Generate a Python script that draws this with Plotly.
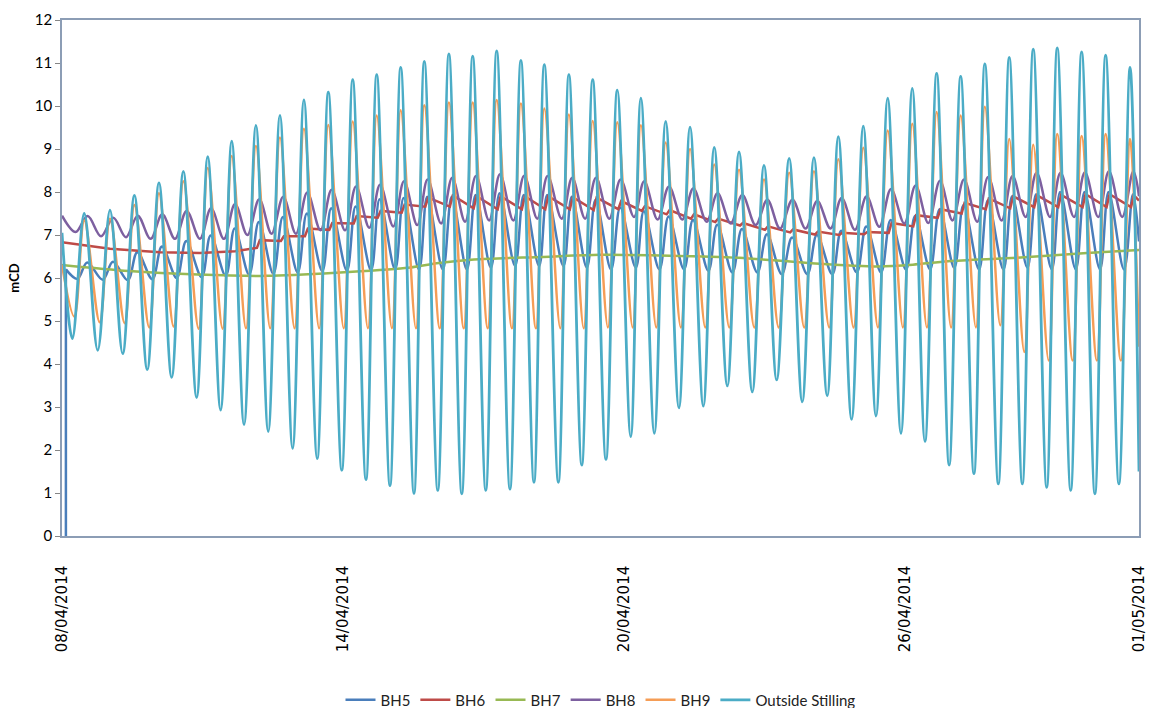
import pandas as pd
import plotly.graph_objects as go

# ---------------- data (hours after 08/04/2014 00:00, values in mCD) ----------------
START = pd.Timestamp("2014-04-08 00:00")
END_H = 552.0

# Outside Stilling: high waters and low waters
OS_HIGH_H = [11.4, 24.6, 37.1, 49.7, 62.2, 74.7, 87.0, 99.4, 111.7, 124.0, 136.5, 149.0, 161.3, 173.6,
             185.7, 198.3, 210.5, 222.8, 235.2, 247.2, 259.8, 272.0, 284.6, 296.7, 309.4, 321.9, 334.3,
             347.0, 359.8, 372.7, 385.4, 397.9, 410.7, 423.2, 435.8, 448.3, 460.6, 473.0, 485.5, 497.8,
             510.1, 522.6, 534.9, 547.4]
OS_HIGH = [7.50, 7.58, 7.92, 8.21, 8.48, 8.82, 9.18, 9.55, 9.78, 10.14, 10.32, 10.61, 10.73, 10.90,
           11.04, 11.21, 11.16, 11.28, 11.06, 10.96, 10.73, 10.61, 10.37, 10.18, 9.64, 9.51, 9.04,
           8.93, 8.62, 8.78, 8.80, 9.29, 9.53, 10.18, 10.41, 10.76, 10.69, 10.98, 11.13, 11.32,
           11.35, 11.26, 11.18, 10.90]
OS_LOW_H = [5.3, 18.3, 31.1, 43.7, 56.2, 69.0, 81.3, 93.3, 105.7, 118.2, 130.8, 143.4, 155.8, 168.1,
            180.4, 192.6, 204.9, 217.2, 229.6, 241.9, 254.4, 266.4, 278.8, 291.5, 303.6, 316.2, 328.7,
            341.0, 353.8, 366.3, 379.4, 392.2, 404.7, 417.2, 430.0, 442.3, 454.7, 467.4, 479.9, 492.2,
            504.7, 517.0, 529.4, 541.7]
OS_LOW = [4.59, 4.32, 4.24, 3.87, 3.69, 3.22, 2.93, 2.59, 2.43, 2.04, 1.80, 1.53, 1.31, 1.17,
          0.99, 1.06, 0.98, 1.06, 1.09, 1.25, 1.25, 1.65, 1.78, 2.31, 2.39, 2.98, 3.02,
          3.49, 3.35, 3.63, 3.12, 3.26, 2.71, 2.79, 2.39, 2.20, 1.65, 1.45, 1.21, 1.21,
          1.13, 1.06, 0.98, 1.21]
OS_START, OS_END = 7.05, 1.5

# BH9
BH9_HIGH = [7.34, 7.38, 7.70, 7.97, 8.25, 8.56, 8.84, 9.07, 9.27, 9.47, 9.56, 9.64, 9.78, 9.90,
            10.02, 10.08, 10.08, 10.14, 10.06, 9.94, 9.80, 9.65, 9.62, 9.55, 9.15, 9.00, 8.64,
            8.52, 8.29, 8.45, 8.48, 8.76, 9.03, 9.43, 9.59, 9.86, 9.78, 9.98, 9.23, 9.10,
            9.35, 9.30, 9.35, 9.23]
BH9_LOW = [5.10, 4.97, 4.95, 4.85, 4.87, 4.82, 4.82, 4.83, 4.83, 4.83, 4.83, 4.83, 4.83, 4.83,
           4.83, 4.83, 4.83, 4.83, 4.83, 4.83, 4.83, 4.83, 4.85, 4.85, 4.85, 4.85, 4.85,
           4.85, 4.85, 4.85, 4.85, 4.85, 4.85, 4.85, 4.85, 4.85, 4.85, 4.85, 4.90, 4.28,
           4.08, 4.08, 4.08, 4.08]
BH9_START, BH9_END = 6.3, 4.4
BH9_LOW_LAG_H = 1.0

# BH8
BH8_HIGH = [7.44, 7.40, 7.45, 7.48, 7.56, 7.62, 7.72, 7.83, 7.89, 7.99, 8.05, 8.13, 8.17, 8.25,
            8.29, 8.33, 8.37, 8.41, 8.38, 8.37, 8.33, 8.33, 8.29, 8.25, 8.13, 8.09, 7.97,
            7.93, 7.82, 7.82, 7.79, 7.86, 7.90, 8.07, 8.15, 8.26, 8.29, 8.35, 8.37, 8.45,
            8.45, 8.46, 8.48, 8.48]
BH8_LOW = [7.07, 6.97, 6.95, 6.91, 6.91, 6.91, 6.91, 7.00, 7.03, 7.03, 7.11, 7.11, 7.17, 7.20,
           7.23, 7.27, 7.31, 7.34, 7.34, 7.38, 7.38, 7.38, 7.38, 7.42, 7.36, 7.36, 7.31,
           7.27, 7.23, 7.15, 7.15, 7.15, 7.12, 7.19, 7.27, 7.28, 7.34, 7.31, 7.34, 7.42,
           7.42, 7.42, 7.42, 7.42]
BH8_START, BH8_END = 7.45, 7.9
BH8_LAG_H = 1.7

# BH5
BH5_HIGH = [6.36, 6.38, 6.60, 6.73, 6.86, 6.99, 7.15, 7.30, 7.42, 7.50, 7.62, 7.66, 7.83, 7.86,
            7.89, 7.89, 7.93, 7.97, 7.93, 7.93, 7.89, 7.82, 7.64, 7.55, 7.43, 7.35, 7.24,
            7.14, 7.02, 6.94, 7.00, 7.10, 7.20, 7.35, 7.45, 7.60, 7.70, 7.80, 7.90, 7.95,
            8.00, 8.00, 8.00, 7.95]
BH5_LOW = [5.98, 5.96, 5.95, 5.97, 6.00, 6.02, 6.05, 6.08, 6.10, 6.13, 6.16, 6.17, 6.18, 6.20,
           6.20, 6.20, 6.20, 6.24, 6.28, 6.28, 6.28, 6.24, 6.20, 6.24, 6.20, 6.20, 6.17,
           6.13, 6.13, 6.09, 6.09, 6.09, 6.13, 6.13, 6.20, 6.20, 6.24, 6.20, 6.20, 6.24,
           6.20, 6.20, 6.20, 6.20]
BH5_GAP_H = 2.0          # first reading (0 mCD) before the logger settles
BH5_GAP = [0.0, 6.2]
BH5_END = 6.85
BH5_HIGH_LAG_H, BH5_LOW_LAG_H = 1.5, 2.6

# BH6
BH6_EARLY_H = [0.0, 24.6, 50.2, 70.7, 88.7]
BH6_EARLY = [6.83, 6.68, 6.60, 6.58, 6.62]
BH6_FIRST_TIDE = 7
BH6_LOW = [6.70, 6.86, 6.97, 7.12, 7.27, 7.40, 7.52, 7.66, 7.66, 7.62, 7.60, 7.60, 7.60, 7.60,
           7.58, 7.60, 7.56, 7.48, 7.38, 7.30, 7.22, 7.12, 7.06, 7.01, 7.00, 7.02, 7.05,
           7.20, 7.40, 7.50, 7.60, 7.62, 7.65, 7.65, 7.65, 7.65, 7.65]
BH6_HIGH = [6.88, 6.97, 7.15, 7.28, 7.44, 7.56, 7.71, 7.87, 7.92, 7.90, 7.90, 7.90, 7.90, 7.88,
            7.87, 7.79, 7.67, 7.58, 7.48, 7.38, 7.28, 7.20, 7.13, 7.08, 7.05, 7.07, 7.28,
            7.46, 7.60, 7.75, 7.85, 7.90, 7.92, 7.93, 7.95, 7.95, 7.92]
BH6_END = 7.8
BH6_LOW_LAG_H, BH6_HIGH_LAG_H = 0.5, 2.0

# BH7
BH7_H = [0.0, 34.3, 69.7, 105.1, 140.4, 175.8, 193.2, 211.2, 246.5, 275.7, 311.6, 347.0,
         382.3, 418.2, 436.1, 454.1, 489.4, 525.3, 552.0]
BH7 = [6.30, 6.16, 6.08, 6.05, 6.12, 6.23, 6.35, 6.43, 6.49, 6.54, 6.52, 6.47,
       6.35, 6.27, 6.31, 6.39, 6.47, 6.58, 6.65]

TICK_DAYS = [0, 6, 12, 18, 23]
TICK_TEXT = ["08/04/2014", "14/04/2014", "20/04/2014", "26/04/2014", "01/05/2014"]

COLORS = {"BH5": "#4A7EBB", "BH6": "#BE4B48", "BH7": "#98B954", "BH8": "#7D60A0",
          "BH9": "#F59D56", "Outside Stilling": "#4BACC6"}


def to_dates(hours):
    return START + pd.to_timedelta(hours, unit="h")


def tide(low_h, low, high_h, high, start_h, start, end, low_lag=0.0, high_lag=0.0):
    h = list(start_h)
    v = list(start)
    for lh, lv, hh, hv in zip(low_h, low, high_h, high):
        h += [lh + low_lag, hh + high_lag]
        v += [lv, hv]
    h.append(END_H)
    v.append(end)
    return to_dates(h), v


fig = go.Figure()

# BH5: initial drop to 0 drawn as a straight segment, then the tidal record
fig.add_trace(go.Scatter(x=to_dates([BH5_GAP_H, BH5_GAP_H]), y=BH5_GAP, mode="lines",
                         line=dict(color=COLORS["BH5"], width=2.5), legendgroup="BH5",
                         showlegend=False))
x5, y5 = tide(OS_LOW_H, BH5_LOW, OS_HIGH_H, BH5_HIGH, [BH5_GAP_H], [BH5_GAP[1]], BH5_END,
              BH5_LOW_LAG_H, BH5_HIGH_LAG_H)
fig.add_trace(go.Scatter(x=x5, y=y5, name="BH5", mode="lines", legendgroup="BH5",
                         line=dict(color=COLORS["BH5"], width=2.5, shape="spline", smoothing=1)))

h6 = list(BH6_EARLY_H)
v6 = list(BH6_EARLY)
for th, lo, hi in zip(OS_HIGH_H[BH6_FIRST_TIDE:], BH6_LOW, BH6_HIGH):
    h6 += [th + BH6_LOW_LAG_H, th + BH6_HIGH_LAG_H]
    v6 += [lo, hi]
h6.append(END_H)
v6.append(BH6_END)
fig.add_trace(go.Scatter(x=to_dates(h6), y=v6, name="BH6", mode="lines",
                         line=dict(color=COLORS["BH6"], width=2.5)))

fig.add_trace(go.Scatter(x=to_dates(BH7_H), y=BH7, name="BH7", mode="lines",
                         line=dict(color=COLORS["BH7"], width=2.5, shape="spline", smoothing=0.8)))

x8, y8 = tide(OS_LOW_H, BH8_LOW, OS_HIGH_H, BH8_HIGH, [0.0], [BH8_START], BH8_END,
              BH8_LAG_H, BH8_LAG_H)
fig.add_trace(go.Scatter(x=x8, y=y8, name="BH8", mode="lines",
                         line=dict(color=COLORS["BH8"], width=2.5, shape="spline", smoothing=1)))

x9, y9 = tide(OS_LOW_H, BH9_LOW, OS_HIGH_H, BH9_HIGH, [0.0], [BH9_START], BH9_END,
              BH9_LOW_LAG_H, 0.0)
fig.add_trace(go.Scatter(x=x9, y=y9, name="BH9", mode="lines",
                         line=dict(color=COLORS["BH9"], width=2.5, shape="spline", smoothing=1)))

xo, yo = tide(OS_LOW_H, OS_LOW, OS_HIGH_H, OS_HIGH, [0.0], [OS_START], OS_END)
fig.add_trace(go.Scatter(x=xo, y=yo, name="Outside Stilling", mode="lines",
                         line=dict(color=COLORS["Outside Stilling"], width=2.8,
                                   shape="spline", smoothing=1)))

fig.update_layout(
    width=1149, height=708,
    margin=dict(l=62, r=10, t=20, b=172, autoexpand=False),
    plot_bgcolor="white", paper_bgcolor="white",
    font=dict(family="Lato, Open Sans, sans-serif", size=13, color="#000000"),
    showlegend=True,
    legend=dict(orientation="h", x=0.5, xanchor="center", y=-0.318, yanchor="middle",
                font=dict(family="Lato, sans-serif", size=15, color="#222222"),
                itemwidth=30, bgcolor="rgba(0,0,0,0)"),
    hovermode=False,
)
fig.update_xaxes(
    type="date", automargin=False,
    range=[to_dates([0.0])[0], to_dates([END_H])[0]],
    tickvals=list(to_dates([d * 24.0 for d in TICK_DAYS])),
    ticktext=TICK_TEXT,
    tickangle=-90,
    tickfont=dict(family="DejaVu Sans, sans-serif", size=15, color="#000000"),
    ticks="", ticklabelstandoff=22,
    showgrid=False, zeroline=False,
    showline=True, linecolor="#8C9DB5", linewidth=1.5, mirror=True,
)
fig.update_yaxes(
    automargin=False,
    range=[0, 12], dtick=1, tick0=0,
    ticks="outside", ticklen=5, tickcolor="#868686",
    tickfont=dict(family="Lato, sans-serif", size=15, color="#000000"),
    showgrid=False, zeroline=False,
    showline=True, linecolor="#8C9DB5", linewidth=1.5, mirror=True,
    title=dict(text="<b>mCD</b>", font=dict(family="Lato, sans-serif", size=13, color="#000000"),
               standoff=12),
)

fig.write_html(
    "out.html",
    config={"displayModeBar": False},
    post_script="document.body.style.margin='0px';document.body.style.overflow='hidden';",
)
